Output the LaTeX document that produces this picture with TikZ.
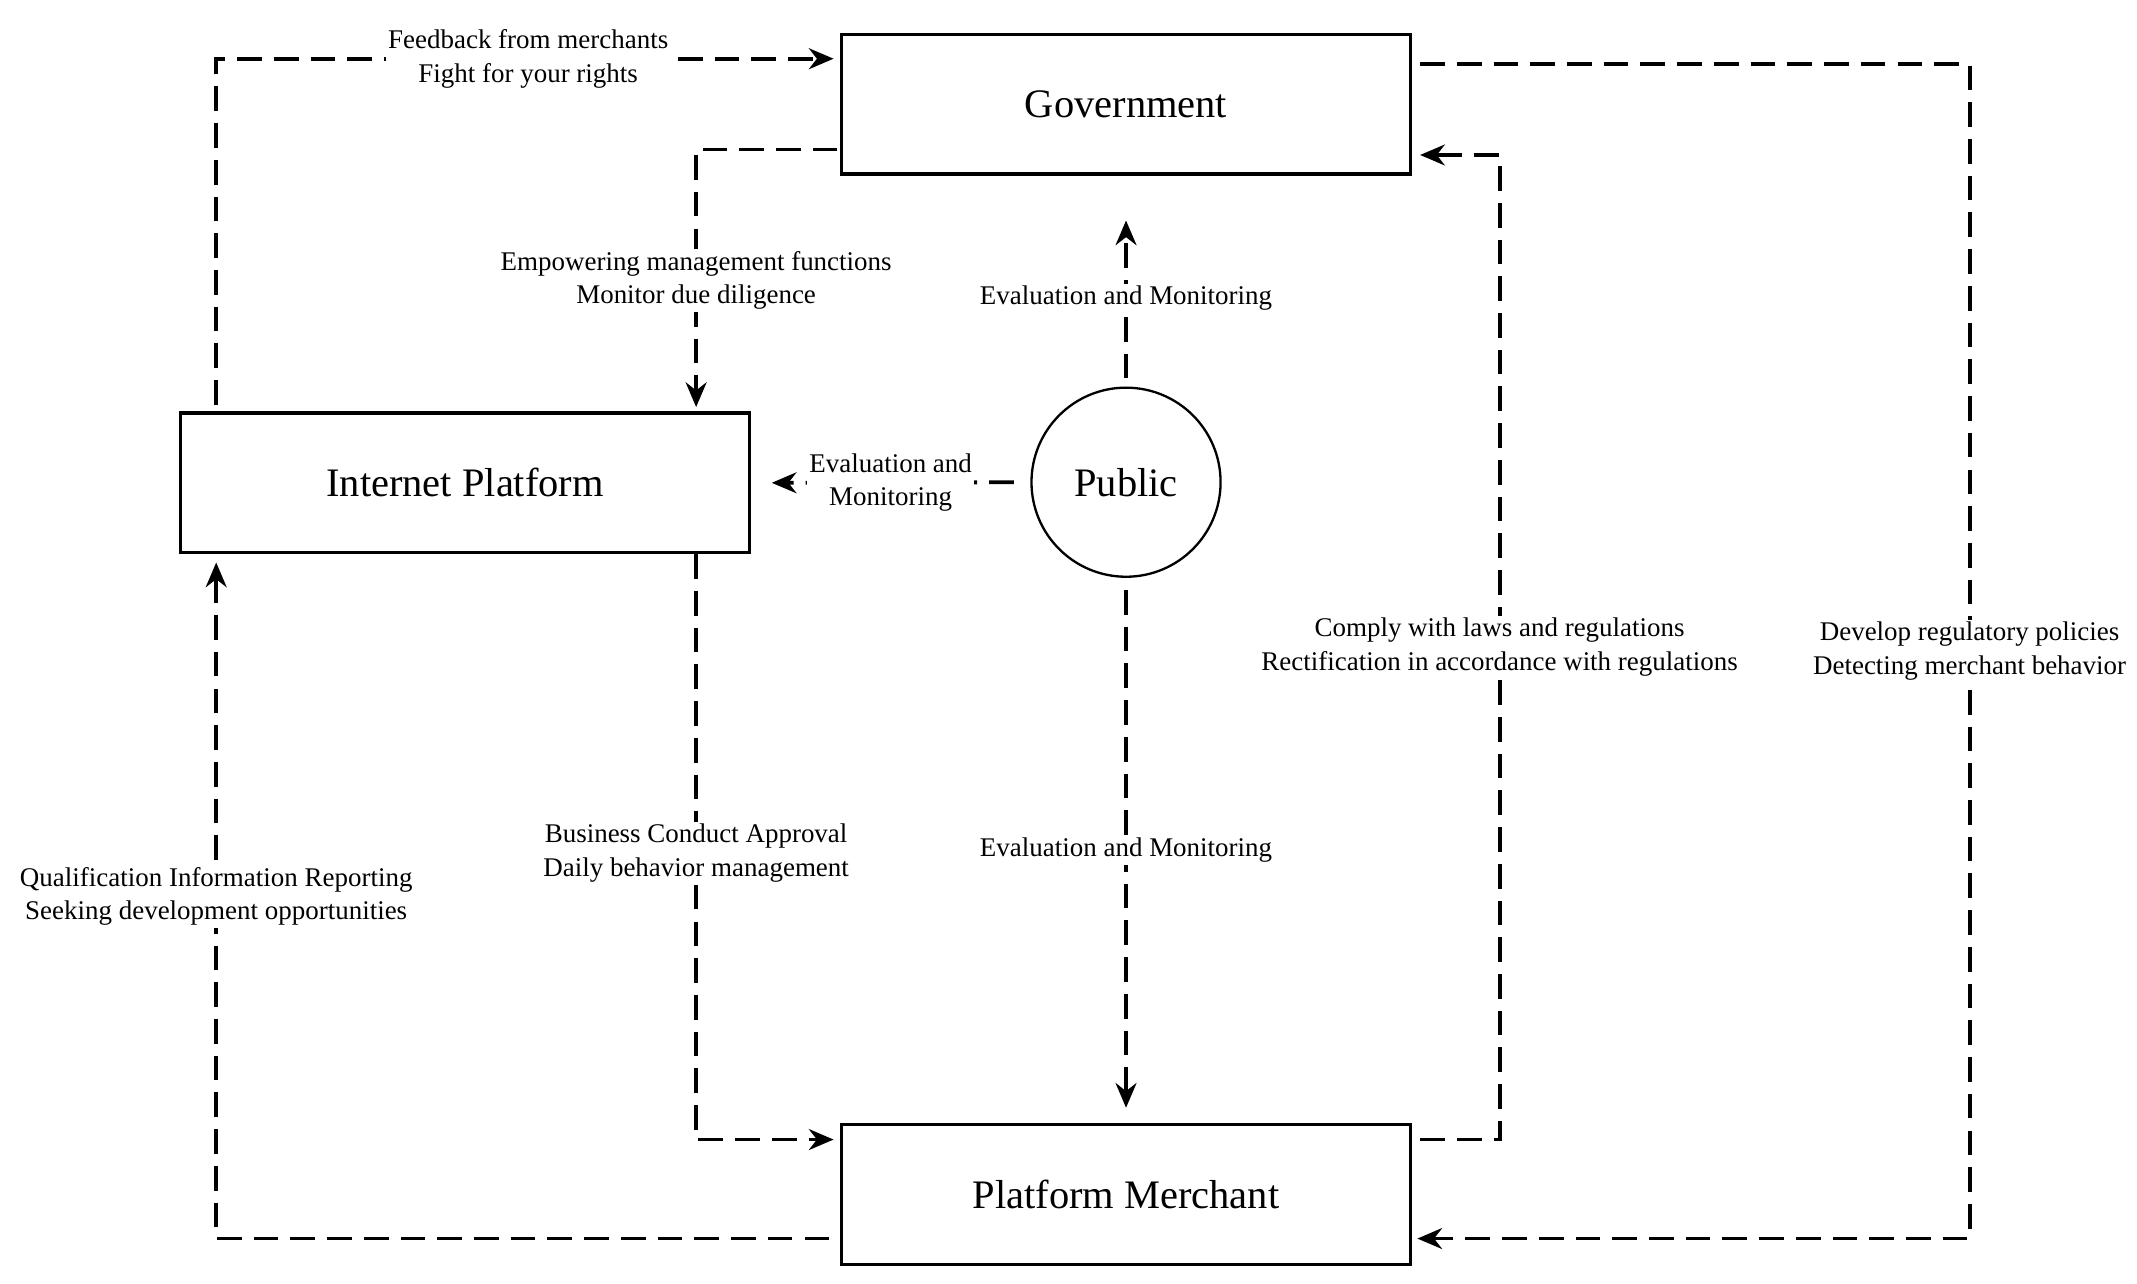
\documentclass[tikz,border=0pt]{standalone}
\usepackage{fontspec}
\setmainfont{Liberation Serif}
\usetikzlibrary{positioning,arrows.meta}

\begin{document}
\begin{tikzpicture}[
        x=0.025cm, y=-0.025cm,
        flow/.style={line width=2pt, dash pattern=on 0.45cm off 0.22cm, -{Stealth[length=0.45cm,width=0.38cm]}}, % dashed arrow
        box/.style={draw, line width=1.6pt, minimum width=10.375cm, minimum height=2.55cm, font=\fontsize{21}{25}\selectfont}, % main boxes
        lbl/.style={fill=white, align=center, inner sep=1pt, font=\fontsize{14}{17.5}\selectfont} % labels
    ]
        \useasboundingbox (0,0) rectangle (1560,936.6);

        % Actors
        \node (gov) [box] at (822,76) {Government};
        \node (ip) [box] at (339.5,352.5) {Internet Platform};
        \node (pm) [box] at (822,872) {Platform Merchant};
        \node (pub) [draw, circle, line width=1.2pt, minimum size=3.45cm, font=\fontsize{21}{25}\selectfont] at (822,352) {Public};

        % Platform and government
        \draw [flow, shorten <=0.12cm, shorten >=0.12cm] ([xshift=0.675cm]ip.north west) |- ([yshift=-0.475cm]gov.north west)
            node [lbl, pos=0.75] {Feedback from merchants\\Fight for your rights};
        \draw [flow, shorten <=0.05cm, shorten >=0.08cm] ([yshift=0.475cm]gov.south west) -| ([xshift=-1cm]ip.north east)
            node [lbl, pos=0.75] {Empowering management functions\\Monitor due diligence};

        % Public evaluation
        \draw [flow, shorten <=0.15cm, shorten >=0.82cm] (pub.north) -- (gov.south)
            node [lbl, pos=0.42] {Evaluation and Monitoring};
        \draw [flow, shorten <=0.3cm, shorten >=0.38cm] (pub.west) -- (ip.east)
            node [lbl, midway] {Evaluation and\\Monitoring};
        \draw [flow, shorten <=0.22cm, shorten >=0.28cm] (pub.south) -- (pm.north)
            node [lbl, pos=0.5] {Evaluation and Monitoring};

        % Platform and merchant
        \draw [flow, shorten >=0.12cm] ([xshift=-1cm]ip.south east) |- ([yshift=-0.3cm]pm.north west)
            node [lbl, pos=0.255] {Business Conduct Approval\\Daily behavior management};
        \draw [flow, shorten <=0.2cm, shorten >=0.15cm] ([yshift=0.5cm]pm.south west) -| ([xshift=0.675cm]ip.south west)
            node [lbl, pos=0.75] {Qualification Information Reporting\\Seeking development opportunities};

        % Merchant and government
        \draw [flow, shorten <=0.15cm, shorten >=0.15cm] ([yshift=-0.3cm]pm.north east) -- ++(1.6cm,0) |- ([yshift=0.375cm]gov.south east)
            node [lbl, pos=0.25] {Comply with laws and regulations\\Rectification in accordance with regulations};
        \draw [flow, shorten <=0.15cm, shorten >=0.1cm] ([yshift=-0.575cm]gov.north east) -- ++(10.175cm,0) |- ([yshift=0.5cm]pm.south east)
            node [lbl, pos=0.25] {Develop regulatory policies\\Detecting merchant behavior};

    \end{tikzpicture}
\end{document}
